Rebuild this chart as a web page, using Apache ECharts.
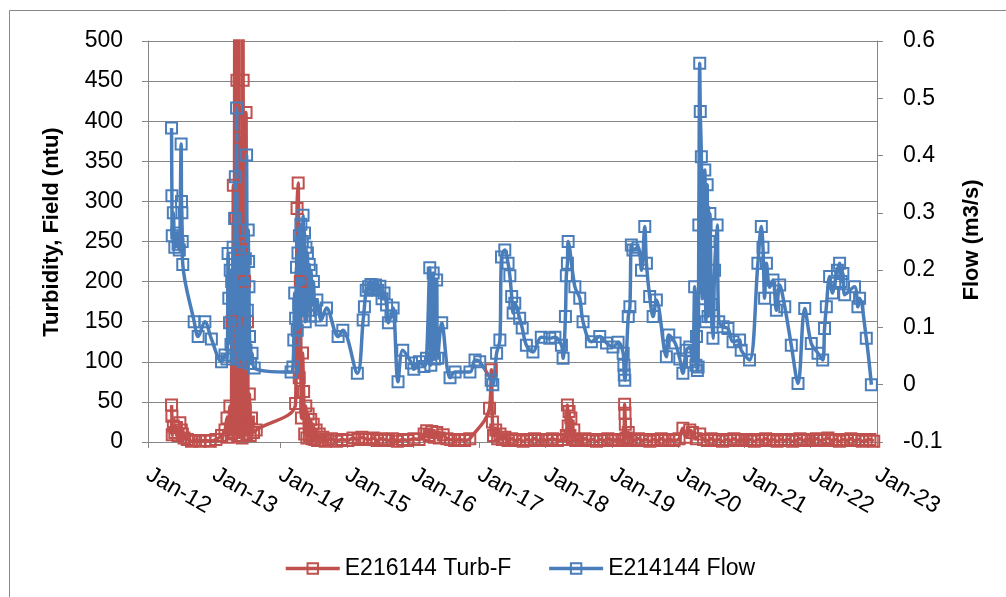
<!DOCTYPE html>
<html><head><meta charset="utf-8">
<script src="https://cdn.jsdelivr.net/npm/echarts@6/dist/echarts.min.js"></script>
<style>html,body{margin:0;padding:0;background:#fff}#c{width:1006px;height:597px}</style>
</head><body><div id="c"></div>
<script>
// X tick labels (one per January)
const xTickLabels = ['Jan-12','Jan-13','Jan-14','Jan-15','Jan-16','Jan-17','Jan-18','Jan-19','Jan-20','Jan-21','Jan-22','Jan-23'];
const seriesNames = ['E216144 Turb-F', 'E214144 Flow'];

// Turbidity, Field (ntu) – left axis
const turbidity = [
['2012-05-10',46],['2012-05-12',32],['2012-05-14',9],['2012-05-20',20],['2012-05-28',12],['2012-06-06',18],['2012-06-15',8],['2012-06-25',24],['2012-07-03',15],['2012-07-09',10],['2012-07-18',5],['2012-08-05',3],['2012-08-28',1],['2012-09-20',2],['2012-10-15',1],['2012-11-10',2],['2012-12-10',1],['2013-01-10',3],
['2013-02-10',8],['2013-03-01',15],['2013-03-12',30],['2013-03-20',6],['2013-03-28',45],['2013-04-04',10],['2013-04-08',150],['2013-04-12',25],['2013-04-16',320],['2013-04-20',12],['2013-04-25',620],['2013-04-29',279],['2013-05-02',30],['2013-05-06',451],['2013-05-10',8],['2013-05-14',900],['2013-05-18',50],['2013-05-22',380],['2013-05-26',15],['2013-05-30',240],['2013-06-03',5],['2013-06-06',700],['2013-06-09',451],['2013-06-13',20],['2013-06-17',200],['2013-06-21',40],['2013-06-25',411],['2013-06-29',10],['2013-07-03',150],['2013-07-08',25],['2013-07-13',60],['2013-07-18',8],['2013-07-25',30],['2013-08-05',12],['2013-08-20',15],
['2014-03-25',48],['2014-04-02',291],['2014-04-08',323],['2014-04-14',80],['2014-04-20',200],['2014-04-26',30],['2014-05-02',111],['2014-05-08',63],['2014-05-14',10],['2014-05-20',45],['2014-05-26',5],['2014-06-02',35],['2014-06-09',8],['2014-06-16',28],['2014-06-23',4],['2014-06-30',22],['2014-07-08',3],['2014-07-16',15],['2014-07-24',2],['2014-08-02',10],['2014-08-12',2],['2014-08-22',6],['2014-09-05',1],['2014-09-20',3],
['2014-10-08',4],['2014-11-05',1],['2014-12-03',3],['2015-01-07',2],['2015-02-04',5],['2015-03-04',3],['2015-03-25',6],['2015-04-15',4],['2015-05-06',3],['2015-05-27',5],['2015-06-17',2],['2015-07-08',4],['2015-07-29',3],['2015-08-19',2],['2015-09-09',4],['2015-10-07',1],['2015-11-04',3],['2015-12-02',2],['2016-01-06',4],['2016-02-03',3],
['2016-03-02',10],['2016-03-16',14],['2016-03-30',8],['2016-04-13',13],['2016-04-27',6],['2016-05-11',12],['2016-05-25',5],['2016-06-15',9],['2016-07-06',4],['2016-07-27',3],['2016-08-17',2],['2016-09-14',3],['2016-10-12',2],['2016-11-09',4],
['2017-02-26',42],['2017-03-08',90],['2017-03-14',25],['2017-03-20',8],['2017-04-01',15],['2017-04-12',4],['2017-04-25',10],['2017-05-08',3],['2017-05-22',6],['2017-06-08',2],['2017-06-28',4],['2017-07-19',2],['2017-08-09',3],['2017-08-30',1],['2017-09-20',3],['2017-10-11',2],['2017-11-01',4],['2017-11-22',2],['2017-12-13',3],
['2018-01-10',2],['2018-02-07',4],['2018-03-07',2],['2018-04-04',3],['2018-04-25',8],['2018-05-01',46],['2018-05-05',20],['2018-05-10',38],['2018-05-15',8],['2018-05-20',30],['2018-05-28',4],['2018-06-05',15],['2018-06-15',2],['2018-06-25',3],['2018-07-16',2],['2018-08-06',4],['2018-08-27',2],['2018-09-17',3],['2018-10-08',1],['2018-10-29',3],['2018-11-19',2],['2018-12-10',4],
['2019-01-07',2],['2019-02-04',3],['2019-02-25',2],['2019-03-08',3],['2019-03-12',47],['2019-03-14',36],['2019-03-16',22],['2019-03-20',5],['2019-04-01',12],['2019-04-15',3],['2019-05-06',2],['2019-05-27',4],['2019-06-17',2],['2019-07-08',3],['2019-07-29',1],['2019-08-19',3],['2019-09-09',2],['2019-09-30',4],['2019-10-21',2],['2019-11-11',3],['2019-12-09',2],
['2020-01-06',4],['2020-01-27',17],['2020-02-15',6],['2020-03-05',15],['2020-03-20',12],['2020-04-10',4],['2020-04-29',10],['2020-05-20',3],['2020-06-10',2],['2020-07-01',4],['2020-07-22',2],['2020-08-12',3],['2020-09-02',1],['2020-09-23',3],['2020-10-14',2],['2020-11-04',4],['2020-11-25',2],['2020-12-16',3],
['2021-01-13',2],['2021-02-03',3],['2021-02-24',1],['2021-03-17',3],['2021-04-07',2],['2021-04-28',4],['2021-05-19',2],['2021-06-09',3],['2021-06-30',1],['2021-07-21',3],['2021-08-11',2],['2021-09-01',3],['2021-09-22',1],['2021-10-13',2],['2021-11-03',4],['2021-11-24',2],['2021-12-15',3],
['2022-01-12',2],['2022-02-02',4],['2022-02-23',2],['2022-03-16',3],['2022-04-06',5],['2022-04-27',2],['2022-05-18',3],['2022-06-08',1],['2022-06-29',3],['2022-07-20',2],['2022-08-10',4],['2022-08-31',2],['2022-09-21',3],['2022-10-12',1],['2022-11-02',2],['2022-11-23',3],['2022-12-14',1]
];

// Flow (m3/s) – right axis
const flow = [
['2012-05-10',0.448],['2012-05-12',0.330],['2012-05-14',0.260],['2012-05-20',0.300],['2012-05-28',0.240],['2012-06-08',0.265],['2012-06-15',0.245],['2012-06-22',0.235],['2012-07-02',0.420],['2012-07-04',0.320],['2012-07-06',0.300],['2012-07-08',0.250],['2012-07-11',0.210],['2012-09-12',0.110],['2012-10-04',0.084],['2012-11-10',0.110],['2012-12-16',0.080],
['2013-02-10',0.040],['2013-03-01',0.052],['2013-03-12',0.045],['2013-03-18',0.229],['2013-03-22',0.151],['2013-03-26',0.108],['2013-03-30',0.200],['2013-04-03',0.070],['2013-04-07',0.180],['2013-04-11',0.050],['2013-04-15',0.240],['2013-04-19',0.120],['2013-04-23',0.290],['2013-04-27',0.363],['2013-04-30',0.100],['2013-05-04',0.483],['2013-05-08',0.060],['2013-05-12',0.210],['2013-05-16',0.140],['2013-05-20',0.230],['2013-05-24',0.045],['2013-05-28',0.190],['2013-06-01',0.090],['2013-06-05',0.250],['2013-06-09',0.040],['2013-06-13',0.170],['2013-06-17',0.110],['2013-06-21',0.220],['2013-06-25',0.060],['2013-06-28',0.401],['2013-07-02',0.130],['2013-07-07',0.270],['2013-07-09',0.215],['2013-07-11',0.171],['2013-07-14',0.084],['2013-07-20',0.037],['2013-07-28',0.055],['2013-08-09',0.029],
['2014-02-28',0.022],['2014-03-10',0.031],['2014-03-15',0.078],['2014-03-20',0.160],['2014-03-25',0.116],['2014-03-30',0.205],['2014-04-03',0.095],['2014-04-07',0.230],['2014-04-11',0.140],['2014-04-15',0.260],['2014-04-19',0.150],['2014-04-23',0.280],['2014-04-27',0.120],['2014-05-01',0.250],['2014-05-05',0.296],['2014-05-09',0.170],['2014-05-13',0.265],['2014-05-17',0.110],['2014-05-21',0.240],['2014-05-25',0.150],['2014-05-29',0.230],['2014-06-03',0.130],['2014-06-08',0.210],['2014-06-13',0.120],['2014-06-18',0.200],['2014-06-24',0.140],['2014-07-01',0.180],['2014-07-10',0.120],['2014-07-20',0.148],['2014-08-13',0.113],['2014-09-11',0.134],['2014-11-14',0.084],['2014-12-10',0.095],
['2015-02-28',0.020],['2015-04-01',0.113],['2015-04-08',0.136],['2015-04-18',0.165],['2015-05-01',0.171],['2015-05-14',0.175],['2015-05-26',0.168],['2015-06-08',0.174],['2015-06-20',0.165],['2015-07-02',0.172],['2015-07-14',0.150],['2015-07-25',0.160],['2015-08-08',0.139],['2015-08-18',0.108],['2015-09-01',0.120],['2015-09-13',0.134],['2015-10-10',0.005],['2015-11-05',0.060],['2015-12-23',0.038],
['2016-01-05',0.027],['2016-02-05',0.040],['2016-03-01',0.032],['2016-03-15',0.046],['2016-04-02',0.204],['2016-04-08',0.034],['2016-04-21',0.195],['2016-04-28',0.045],['2016-05-10',0.183],['2016-05-16',0.046],['2016-06-07',0.108],['2016-07-23',0.012],['2016-08-20',0.022],['2016-11-10',0.022],['2016-12-08',0.043],
['2017-01-03',0.040],['2017-03-07',0.008],['2017-03-16',0.000],['2017-04-06',0.055],['2017-04-24',0.078],['2017-05-03',0.223],['2017-05-21',0.235],['2017-06-08',0.212],['2017-06-18',0.190],['2017-06-28',0.154],['2017-07-06',0.125],['2017-07-15',0.142],['2017-08-11',0.116],['2017-08-25',0.099],['2017-09-17',0.069],['2017-10-23',0.057],['2017-12-08',0.083],
['2018-01-24',0.081],['2018-02-21',0.083],['2018-03-29',0.069],['2018-04-07',0.046],['2018-04-20',0.119],['2018-04-25',0.190],['2018-05-01',0.212],['2018-05-05',0.250],['2018-06-11',0.171],['2018-07-08',0.151],['2018-07-26',0.110],['2018-09-10',0.075],['2018-10-26',0.084],['2018-12-02',0.073],
['2019-01-07',0.066],['2019-02-04',0.074],['2019-03-04',0.055],['2019-03-08',0.034],['2019-03-10',0.017],['2019-03-13',0.008],['2019-04-01',0.119],['2019-04-10',0.136],['2019-04-18',0.244],['2019-04-27',0.235],['2019-05-25',0.240],['2019-06-13',0.200],['2019-07-01',0.276],['2019-07-10',0.212],['2019-07-28',0.154],['2019-08-16',0.119],['2019-09-03',0.148],['2019-10-28',0.049],['2019-11-10',0.087],['2019-12-15',0.073],
['2020-01-10',0.045],['2020-01-27',0.020],['2020-02-15',0.060],['2020-03-05',0.066],['2020-03-20',0.040],['2020-04-01',0.171],['2020-04-08',0.034],['2020-04-11',0.084],['2020-04-16',0.025],['2020-04-20',0.031],['2020-04-24',0.279],['2020-04-29',0.561],['2020-05-02',0.477],['2020-05-08',0.398],['2020-05-14',0.150],['2020-05-21',0.300],['2020-05-27',0.375],['2020-06-02',0.110],['2020-06-09',0.349],['2020-06-14',0.119],['2020-06-19',0.250],['2020-06-24',0.299],['2020-07-02',0.140],['2020-07-11',0.081],['2020-07-20',0.200],['2020-08-03',0.279],['2020-08-12',0.110],['2020-09-05',0.101],['2020-10-02',0.098],['2020-10-30',0.075],['2020-12-05',0.078],['2020-12-14',0.060],
['2021-01-29',0.043],['2021-03-16',0.212],['2021-04-04',0.276],['2021-04-13',0.240],['2021-04-22',0.151],['2021-05-02',0.212],['2021-05-20',0.170],['2021-06-07',0.183],['2021-06-26',0.130],['2021-07-14',0.174],['2021-08-11',0.136],['2021-09-16',0.069],['2021-10-23',0.002],['2021-11-29',0.133],
['2022-01-04',0.072],['2022-02-10',0.055],['2022-03-08',0.043],['2022-03-18',0.098],['2022-03-28',0.136],['2022-04-15',0.189],['2022-05-01',0.160],['2022-05-13',0.177],['2022-05-28',0.200],['2022-06-09',0.212],['2022-06-18',0.180],['2022-06-27',0.194],['2022-07-07',0.157],['2022-08-30',0.171],['2022-09-18',0.136],['2022-09-27',0.151],['2022-11-03',0.081],['2022-12-01',0.000]
];

function toYear(s){
  const p = s.split('-').map(Number);
  const t = Date.UTC(p[0], p[1]-1, p[2]);
  const t0 = Date.UTC(p[0],0,1), t1 = Date.UTC(p[0]+1,0,1);
  return p[0] + (t - t0) / (t1 - t0);
}

const FONT = '"Liberation Sans", Arial, sans-serif';
const GRID_C = '#868686';
const RED = '#C0504D', BLUE = '#4A7EBB';

const chart = echarts.init(document.getElementById('c'), null, {renderer:'canvas'});
chart.setOption({
  animation: false,
  backgroundColor: '#fff',
  textStyle: {fontFamily: FONT},
  grid: {left: 148, right: 129, top: 41, bottom: 155, containLabel: false},
  legend: {
    left: 279, top: 552,
    itemWidth: 54, itemHeight: 13, itemGap: 36,
    lineStyle: {width: 3.5},
    textStyle: {fontSize: 23, color: '#000', fontFamily: FONT},
    data: seriesNames
  },
  xAxis: {
    type: 'value', min: 2012, max: 2023, interval: 1,
    axisLine: {show: true, lineStyle: {color: GRID_C, width: 1}},
    axisTick: {show: true, inside: false, length: 6, lineStyle: {color: GRID_C}},
    splitLine: {show: false},
    axisLabel: {
      rotate: -30, margin: 31, fontSize: 23, color: '#000', fontFamily: FONT,
      formatter: v => xTickLabels[Math.round(v - 2012)] || ''
    }
  },
  yAxis: [
    {
      type: 'value', min: 0, max: 500, interval: 50, position: 'left',
      axisLine: {show: true, lineStyle: {color: GRID_C, width: 1}},
      axisTick: {show: true, inside: false, length: 6, lineStyle: {color: GRID_C}},
      splitLine: {show: true, lineStyle: {color: GRID_C, width: 1}},
      axisLabel: {fontSize: 23, color: '#000', margin: 25, fontFamily: FONT}
    },
    {
      type: 'value', min: -0.1, max: 0.6, interval: 0.1, position: 'right',
      axisLine: {show: true, lineStyle: {color: GRID_C, width: 1}},
      axisTick: {show: true, inside: false, length: 6, lineStyle: {color: GRID_C}},
      splitLine: {show: false},
      axisLabel: {fontSize: 23, color: '#000', margin: 26, fontFamily: FONT,
        formatter: v => String(Number(v.toFixed(1)))}
    }
  ],
  graphic: [
    {type: 'rect', silent: true, shape: {x: 9.5, y: 10.5, width: 1200, height: 1000},
     style: {fill: 'none', stroke: GRID_C, lineWidth: 1}},
    {type: 'text', silent: true, x: 52, y: 232, rotation: Math.PI/2,
     style: {text: 'Turbidity, Field (ntu)', font: 'bold 22px ' + FONT, fill: '#000', align: 'center', verticalAlign: 'middle'}},
    {type: 'text', silent: true, x: 972, y: 240, rotation: Math.PI/2,
     style: {text: 'Flow (m3/s)', font: 'bold 22px ' + FONT, fill: '#000', align: 'center', verticalAlign: 'middle'}}
  ],
  series: [
    {
      name: seriesNames[0], type: 'line', yAxisIndex: 0,
      data: turbidity.map(d => [toYear(d[0]), d[1]]),
      smooth: 0.35, symbol: 'rect', symbolSize: 11, clip: true,
      lineStyle: {color: RED, width: 3.5},
      itemStyle: {color: 'rgba(255,255,255,0)', borderColor: RED, borderWidth: 2},
      emphasis: {disabled: true}, silent: true
    },
    {
      name: seriesNames[1], type: 'line', yAxisIndex: 1,
      data: flow.map(d => [toYear(d[0]), d[1]]),
      smooth: 0.35, symbol: 'rect', symbolSize: 11, clip: true,
      lineStyle: {color: BLUE, width: 3.5},
      itemStyle: {color: 'rgba(255,255,255,0)', borderColor: BLUE, borderWidth: 2},
      emphasis: {disabled: true}, silent: true
    }
  ]
});
</script>
</body></html>
